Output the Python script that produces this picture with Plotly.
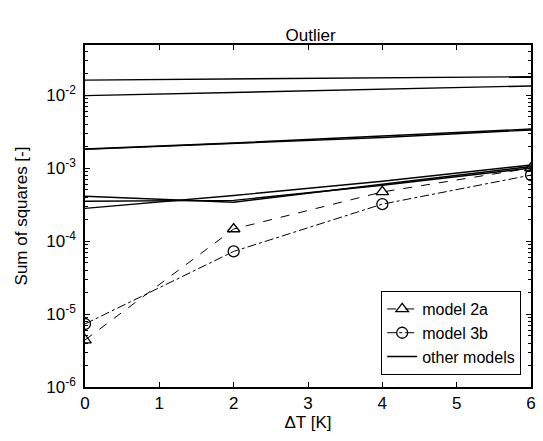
import plotly.graph_objects as go

dT = [0, 2, 4, 6]
model_2a = [4.4e-6, 1.46e-4, 4.7e-4, 1.0e-3]
model_3b = [7.3e-6, 7.2e-5, 3.2e-4, 8.0e-4]
others = [
    [1.6e-2, 1.65e-2, 1.72e-2, 1.78e-2],
    [9.8e-3, 1.08e-2, 1.2e-2, 1.33e-2],
    [1.82e-3, 2.2e-3, 2.75e-3, 3.42e-3],
    [1.80e-3, 2.15e-3, 2.62e-3, 3.32e-3],
    [4.1e-4, 3.4e-4, 6.0e-4, 1.05e-3],
    [3.5e-4, 3.6e-4, 5.8e-4, 1.0e-3],
    [2.8e-4, 4.2e-4, 6.6e-4, 1.1e-3],
]
ytickvals = [1e-6, 1e-5, 1e-4, 1e-3, 1e-2]
yticktext = ["10<sup>-6</sup>", "10<sup>-5</sup>", "10<sup>-4</sup>", "10<sup>-3</sup>", "10<sup>-2</sup>"]
yminorvals = [m * 10.0 ** e for e in range(-6, -1) for m in range(2, 10)]

FONT = "Liberation Sans, Arial"
fig = go.Figure()
fig.add_trace(go.Scatter(x=dT, y=model_2a, name="model 2a", mode="lines+markers",
                         line=dict(color="black", width=1, dash="dash"),
                         marker=dict(symbol="triangle-up-open", size=11, color="black", line=dict(width=1.3))))
fig.add_trace(go.Scatter(x=dT, y=model_3b, name="model 3b", mode="lines+markers",
                         line=dict(color="black", width=1, dash="dashdot"),
                         marker=dict(symbol="circle-open", size=11, color="black", line=dict(width=1.3))))
for i, s in enumerate(others):
    fig.add_trace(go.Scatter(x=dT, y=s, name="other models", mode="lines",
                             line=dict(color="black", width=1.4),
                             showlegend=(i == 0), legendgroup="other"))
# invisible trace to anchor the mirrored (top/right) tick axes
fig.add_trace(go.Scatter(x=[dT[0]], y=[ytickvals[0]], xaxis="x2", yaxis="y2", mode="markers",
                         marker=dict(opacity=0), showlegend=False, hoverinfo="skip"))

axis_common = dict(showline=True, linecolor="black", linewidth=1.5,
                   ticks="inside", tickcolor="black", showgrid=False, zeroline=False,
                   tickfont=dict(family=FONT, size=17, color="black"))
xcfg = dict(range=[0, 6], dtick=1, ticklen=5)
ycfg = dict(type="log", range=[-6, -1.315], tickvals=ytickvals, ticklen=5,
            minor=dict(ticks="inside", ticklen=3, tickcolor="black", showgrid=False, tickvals=yminorvals))

fig.update_layout(
    xaxis=dict(**xcfg, **axis_common, ticklabeloverflow="allow",
               title=dict(text="ΔT [K]", font=dict(family=FONT, size=17, color="black"), standoff=4)),
    yaxis=dict(**ycfg, **axis_common, ticktext=yticktext, ticklabelstandoff=4,
               title=dict(text="Sum of squares [-]", font=dict(family=FONT, size=17, color="black"), standoff=14)),
    xaxis2=dict(**xcfg, **axis_common, overlaying="x", side="top", anchor="y", showticklabels=False),
    yaxis2=dict(**ycfg, **axis_common, overlaying="y", side="right", anchor="x", showticklabels=False),
)
fig.update_layout(
    width=543, height=441,
    margin=dict(l=85, r=7, t=45, b=54),
    plot_bgcolor="white", paper_bgcolor="white",
    title=dict(text="Outlier", x=0.572, xanchor="center", y=0.92, yanchor="middle",
               font=dict(family=FONT, size=17, color="black")),
    legend=dict(x=0.978, y=0.035, xanchor="right", yanchor="bottom",
                bordercolor="black", borderwidth=1, bgcolor="white",
                font=dict(family=FONT, size=16, color="black"),
                tracegroupgap=0, itemwidth=30),
    showlegend=True,
)
fig.write_html("out.html", config={"displayModeBar": False},
               post_script="document.body.style.margin='0';document.body.style.overflow='hidden';")
